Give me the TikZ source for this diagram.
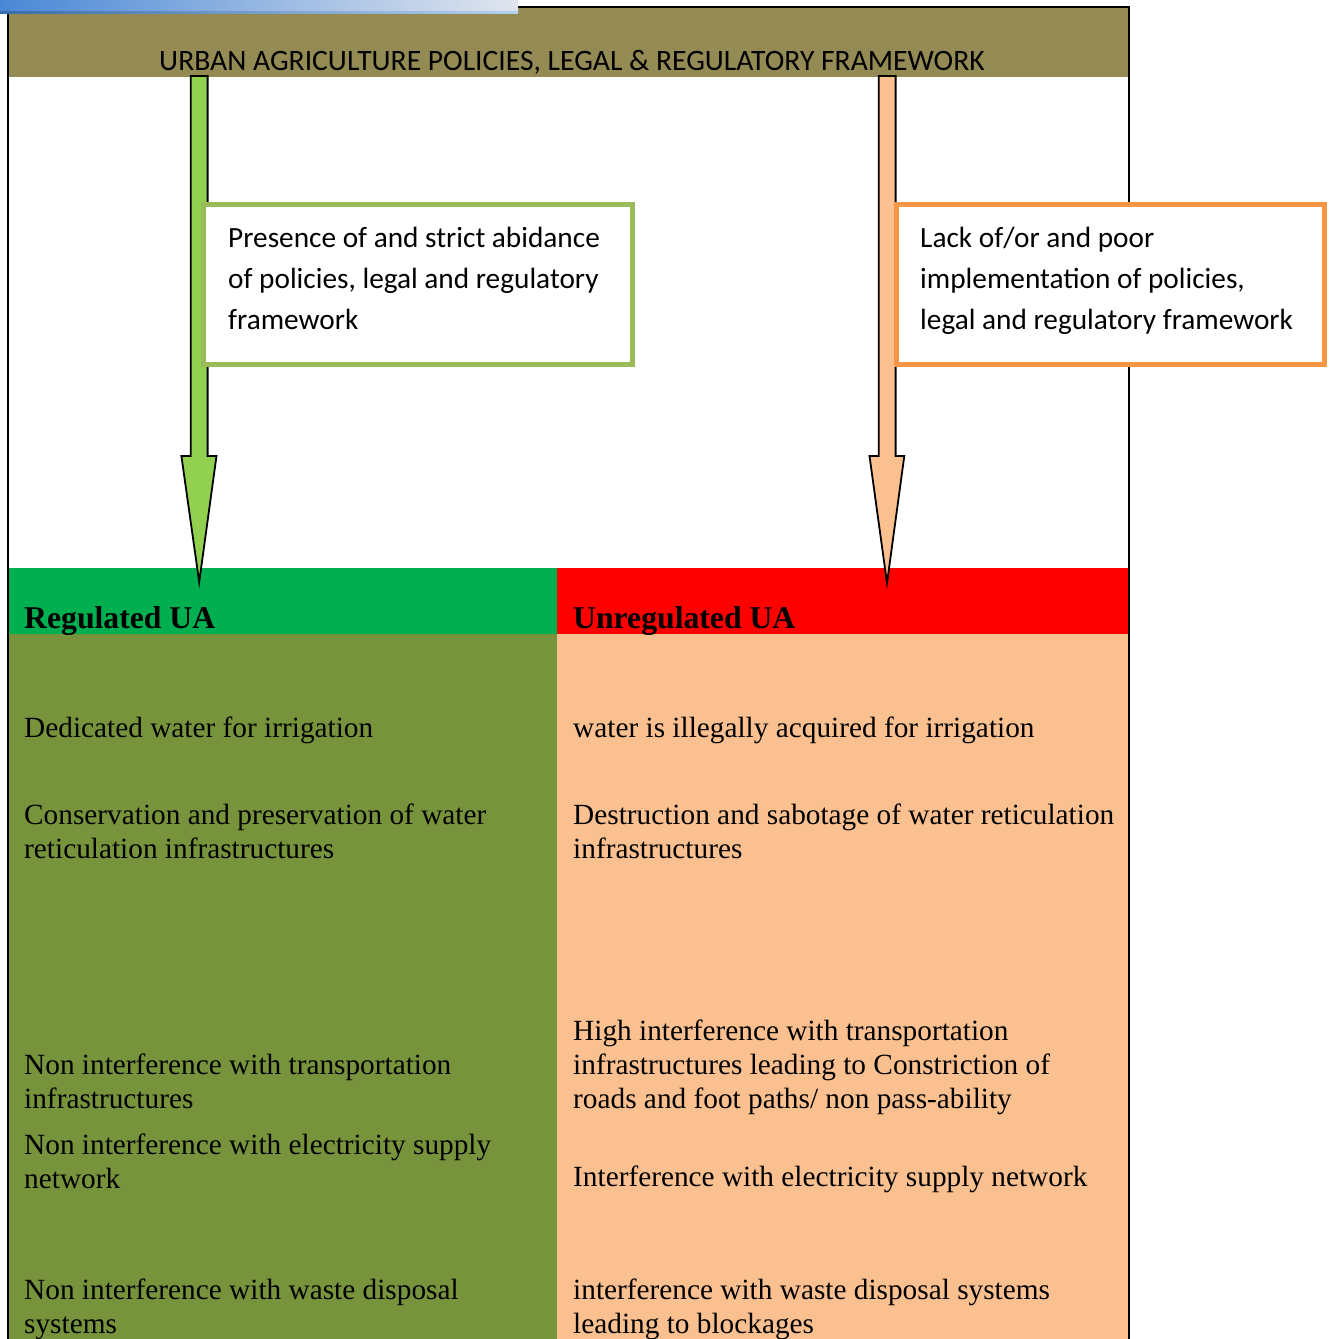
\documentclass[tikz,border=0pt]{standalone}
\usepackage{fontspec}
\setmainfont{Liberation Serif}
\newfontfamily\carlitofam{Carlito}
\usetikzlibrary{calc}
\definecolor{olivehdr}{HTML}{948A54}
\definecolor{arrgreen}{HTML}{92D050}
\definecolor{arrpeach}{HTML}{FAC090}
\definecolor{boxgreen}{HTML}{9BBB59}
\definecolor{boxorange}{HTML}{F79646}
\definecolor{bandgreen}{HTML}{00B050}
\definecolor{bandred}{HTML}{FF0000}
\definecolor{bodygreen}{HTML}{77933C}
\definecolor{bodypeach}{HTML}{FAC090}
\definecolor{barleft}{HTML}{4A88D6}
\definecolor{barright}{HTML}{E0E5EE}
\newcommand\bodyfnt{\fontsize{29.3}{34}\selectfont}
\newcommand\calfnt{\carlitofam\fontsize{29.3}{41}\selectfont}
\newcommand\hdrfnt{\carlitofam\fontsize{29.6}{36}\selectfont}
\newcommand\bandfnt{\fontsize{31.7}{36}\selectfont\bfseries}
\begin{document}
\begin{tikzpicture}[x=1pt,y=-1pt,
  fillrect/.style={draw=none,inner sep=0pt,outer sep=0pt,anchor=north west},
  bodytext/.style={anchor=north west,inner sep=0pt,align=left,font=\bodyfnt,yshift=23.8pt},
  boxtext/.style={anchor=north west,inner sep=0pt,align=left,font=\calfnt,yshift=28.7pt},
  bandtext/.style={anchor=base west,inner sep=0pt,font=\bandfnt},
  bigarrow/.style={draw=black,line width=1.8pt,line join=miter,miter limit=20},
  framebox/.style={draw,fill=white,line width=5pt,inner sep=0pt,outer sep=0pt,anchor=north west}]
\useasboundingbox (0,0) rectangle (1329,1339);
% header
\node[fillrect,fill=olivehdr,minimum width=1120pt,minimum height=69pt] (hdr) at (8,8) {};
% bands
\node[fillrect,fill=bandgreen,minimum width=549pt,minimum height=66pt] (gband) at (8,568) {};
\node[fillrect,fill=bandred,minimum width=571pt,minimum height=66pt] (rband) at (557,568) {};
\node[fillrect,fill=bodygreen,minimum width=549pt,minimum height=706pt] (gbody) at (8,634) {};
\node[fillrect,fill=bodypeach,minimum width=571pt,minimum height=706pt] (pbody) at (557,634) {};
% frame
\draw[line width=2pt] (8,1345) -- (8,7) -- (1129,7) -- (1129,1345);
% top blue bar
\shade[left color=barleft,right color=barright] (0,0) rectangle (518,12);
\shade[left color=barleft!80!black,right color=barleft!40!white] (0,11.5) rectangle (518,13.2);
% arrows
\coordinate (gtop) at (199.2,76);
\coordinate (gtip) at (199.2,582);
\coordinate (otop) at (887.2,76);
\coordinate (otip) at (887,583);
\draw[bigarrow,fill=arrgreen] ($(gtop)+(-8.4,0)$) -- ($(gtop)+(8.4,0)$) -- ($(gtip)+(8.4,-126)$) -- ($(gtip)+(17.3,-126)$) -- (gtip) -- ($(gtip)+(-17.8,-126)$) -- ($(gtip)+(-8.4,-126)$) -- cycle;
\draw[bigarrow,fill=arrpeach] ($(otop)+(-8.4,0)$) -- ($(otop)+(8.4,0)$) -- ($(otip)+(8.6,-127)$) -- ($(otip)+(17.3,-127)$) -- (otip) -- ($(otip)+(-17.5,-127)$) -- ($(otip)+(-8.2,-127)$) -- cycle;
% boxes
\node[framebox,draw=boxgreen,minimum width=429.5pt,minimum height=160pt] (gbox) at (203,204.5) {};
\node[framebox,draw=boxorange,minimum width=427.5pt,minimum height=159.5pt] (obox) at (896.8,204.8) {};
% texts
\node[anchor=base,inner sep=0pt,font=\hdrfnt] (hdrtxt) at (572,70) {URBAN AGRICULTURE POLICIES, LEGAL \& REGULATORY FRAMEWORK};
\node[boxtext] (gboxtxt) at (228,247) {\strut Presence of and strict abidance\\of policies, legal and regulatory\\framework};
\node[boxtext] (oboxtxt) at (920,247.5) {\strut Lack of/or and poor\\implementation of policies,\\legal and regulatory framework};
\node[bandtext] (gbandtxt) at (24,628) {Regulated UA};
\node[bandtext] (rbandtxt) at (573,628) {Unregulated UA};
\node[bodytext] (l1) at (24,737) {\strut Dedicated water for irrigation};
\node[bodytext] (l2) at (24,824) {\strut Conservation and preservation of water\\reticulation infrastructures};
\node[bodytext] (l3) at (24,1074) {\strut Non interference with transportation\\infrastructures};
\node[bodytext] (l4) at (24,1154) {\strut Non interference with electricity supply\\network};
\node[bodytext] (l5) at (24,1299) {\strut Non interference with waste disposal\\systems};
\node[bodytext] (r1) at (573,737) {\strut water is illegally acquired for irrigation};
\node[bodytext] (r2) at (573,824) {\strut Destruction and sabotage of water reticulation\\infrastructures};
\node[bodytext] (r3) at (573,1040) {\strut High interference with transportation\\infrastructures leading to Constriction of\\roads and foot paths/ non pass-ability};
\node[bodytext] (r4) at (573,1186) {\strut Interference with electricity supply network};
\node[bodytext] (r5) at (573,1299) {\strut interference with waste disposal systems\\leading to blockages};
\end{tikzpicture}
\end{document}
